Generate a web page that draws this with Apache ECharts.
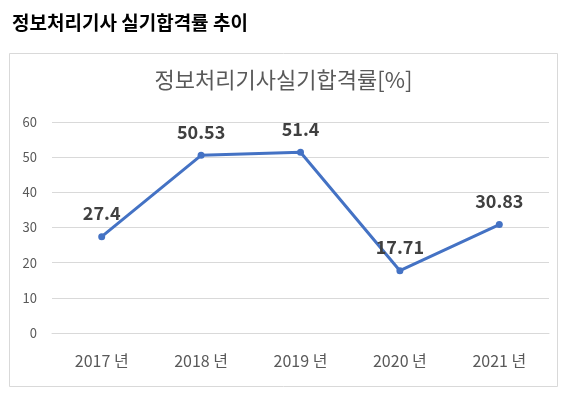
<!DOCTYPE html>
<html>
<head>
<meta charset="utf-8">
<script src="https://cdn.jsdelivr.net/npm/echarts@6/dist/echarts.min.js"></script>
<style>
  html, body { margin: 0; padding: 0; background: #fff; }
  #app { width: 567px; height: 399px; }
</style>
</head>
<body>
<div id="app"></div>
<script>
// data
const years = ['2017 년', '2018 년', '2019 년', '2020 년', '2021 년']
const passRate = [27.4, 50.53, 51.4, 17.71, 30.83]
const yTicks = { min: 0, max: 60, interval: 10 }

const font = '"Noto Sans CJK KR", "Noto Sans", sans-serif'

const chart = echarts.init(document.getElementById('app'), null, { renderer: 'canvas' })

chart.setOption({
  animation: false,
  backgroundColor: '#fff',
  title: [
    {
      text: '정보처리기사 실기합격률 추이',
      left: 7, top: 8,
      textStyle: { fontFamily: font, fontSize: 19, fontWeight: 'bold', color: '#000' }
    },
    {
      text: '정보처리기사실기합격률[%]',
      left: 'center', top: 64,
      textStyle: { fontFamily: font, fontSize: 22, fontWeight: 'normal', color: '#595959' }
    }
  ],
  graphic: [{
    type: 'rect',
    shape: { x: 9.5, y: 53.5, width: 548, height: 333 },
    style: { fill: 'none', stroke: '#d9d9d9', lineWidth: 1 },
    silent: true
  }],
  grid: { left: 52, right: 18, top: 122, bottom: 66 },
  xAxis: {
    type: 'category',
    data: years,
    axisLine: { lineStyle: { color: '#d9d9d9' } },
    axisTick: { show: false },
    axisLabel: { color: '#595959', fontFamily: font, fontSize: 16, margin: 20 }
  },
  yAxis: {
    type: 'value',
    min: yTicks.min, max: yTicks.max, interval: yTicks.interval,
    axisLine: { show: false },
    axisTick: { show: false },
    splitLine: { lineStyle: { color: '#d9d9d9' } },
    axisLabel: { color: '#595959', fontFamily: font, fontSize: 13, margin: 15 }
  },
  series: [{
    type: 'line',
    data: passRate,
    symbol: 'circle',
    symbolSize: 7,
    lineStyle: { color: '#4472c4', width: 3 },
    itemStyle: { color: '#4472c4' },
    label: {
      show: true,
      position: 'top',
      distance: 11,
      color: '#404040',
      fontFamily: font,
      fontSize: 18,
      fontWeight: 'bold'
    }
  }]
})
</script>
</body>
</html>
